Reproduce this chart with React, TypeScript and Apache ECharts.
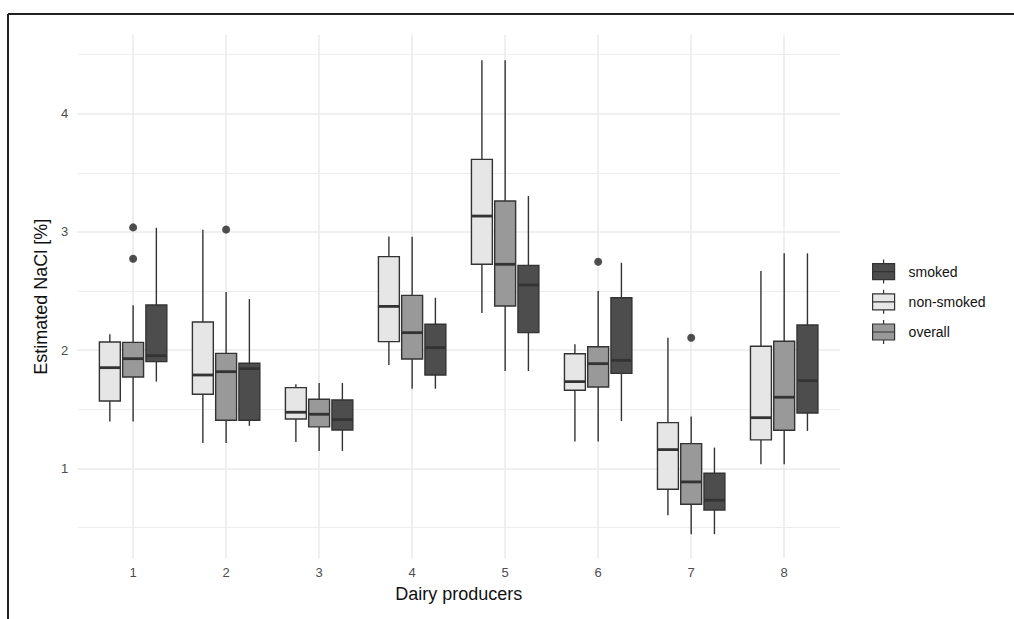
import React, { useEffect, useRef } from "react";
import * as echarts from "echarts";

// ---- data ----
const categories = ["1", "2", "3", "4", "5", "6", "7", "8"];
const majorBreaksY = [1, 2, 3, 4];
const minorBreaksY = [0.5, 1.5, 2.5, 3.5, 4.5];

// [lower whisker, Q1, median, Q3, upper whisker] per producer
const nonSmoked = [
  [1.396, 1.57, 1.852, 2.069, 2.134],
  [1.215, 1.627, 1.79, 2.238, 3.018],
  [1.224, 1.418, 1.475, 1.683, 1.711],
  [1.875, 2.072, 2.37, 2.791, 2.962],
  [2.314, 2.726, 3.134, 3.613, 4.452],
  [1.227, 1.661, 1.734, 1.97, 2.05],
  [0.604, 0.824, 1.159, 1.387, 2.105],
  [1.035, 1.241, 1.429, 2.033, 2.669],
];
const overall = [
  [1.396, 1.773, 1.928, 2.066, 2.379],
  [1.215, 1.407, 1.818, 1.973, 2.492],
  [1.148, 1.351, 1.458, 1.585, 1.723],
  [1.674, 1.925, 2.148, 2.463, 2.959],
  [1.824, 2.373, 2.726, 3.261, 4.452],
  [1.227, 1.689, 1.886, 2.029, 2.5],
  [0.444, 0.697, 0.886, 1.21, 1.438],
  [1.035, 1.323, 1.602, 2.075, 2.819],
];
const smoked = [
  [1.734, 1.903, 1.953, 2.382, 3.035],
  [1.36, 1.407, 1.844, 1.889, 2.432],
  [1.148, 1.325, 1.413, 1.579, 1.723],
  [1.674, 1.79, 2.021, 2.219, 2.443],
  [1.824, 2.148, 2.551, 2.717, 3.303],
  [1.401, 1.804, 1.914, 2.443, 2.739],
  [0.444, 0.649, 0.731, 0.959, 1.176],
  [1.317, 1.469, 1.742, 2.213, 2.819],
];
// outliers of the "overall" group: [producer, value]
const overallOutliers = [
  [1, 3.038],
  [1, 2.773],
  [2, 3.021],
  [6, 2.748],
  [7, 2.105],
];

const FONT = "'Liberation Sans', Arial, Helvetica, sans-serif";
const DODGE = 0.25;
const BOX_W = 0.225;
const EDGE = "#333333";

const legendIcon = "path://M0,4H22V20H0Z M11,0V4 M11,20V24 M0,12H22";

function renderBox(params: any, api: any) {
  const x = api.value(0);
  const lo = api.value(1);
  const q1 = api.value(2);
  const med = api.value(3);
  const q3 = api.value(4);
  const hi = api.value(5);
  const half = api.size([BOX_W, 0])[0] / 2;
  const pHi = api.coord([x, hi]);
  const pQ3 = api.coord([x, q3]);
  const pMed = api.coord([x, med]);
  const pQ1 = api.coord([x, q1]);
  const pLo = api.coord([x, lo]);
  const fill = api.visual("color");
  const lineStyle = { stroke: EDGE, lineWidth: 1.4 };
  return {
    type: "group",
    children: [
      { type: "line", shape: { x1: pHi[0], y1: pHi[1], x2: pQ3[0], y2: pQ3[1] }, style: lineStyle },
      { type: "line", shape: { x1: pQ1[0], y1: pQ1[1], x2: pLo[0], y2: pLo[1] }, style: lineStyle },
      {
        type: "rect",
        shape: { x: pQ3[0] - half, y: pQ3[1], width: 2 * half, height: pQ1[1] - pQ3[1] },
        style: { fill, stroke: EDGE, lineWidth: 1.4 },
      },
      {
        type: "line",
        shape: { x1: pMed[0] - half, y1: pMed[1], x2: pMed[0] + half, y2: pMed[1] },
        style: { stroke: EDGE, lineWidth: 2.8 },
      },
    ],
  };
}

function boxSeries(name: string, rows: number[][], offset: number, color: string) {
  return {
    type: "custom",
    name,
    renderItem: renderBox,
    itemStyle: { color, borderColor: EDGE, borderWidth: 1.2 },
    encode: { x: 0, y: [1, 2, 3, 4, 5] },
    data: rows.map((r, i) => [i + 1 + offset, ...r]),
    z: 3,
  };
}

export default function App() {
  const ref = useRef<HTMLDivElement>(null);
  useEffect(() => {
    if (!ref.current) return;
    const chart = echarts.init(ref.current, null, { renderer: "svg" });
    const gridColor = "#EBEBEB";
    chart.setOption({
      animation: false,
      backgroundColor: "#ffffff",
      textStyle: { fontFamily: FONT },
      grid: { left: 77.3, top: 35, width: 762.7, height: 523.3 },
      xAxis: {
        type: "value",
        min: 0.4,
        max: 8.6,
        name: "Dairy producers",
        nameLocation: "middle",
        nameGap: 27,
        nameTextStyle: { color: "#111", fontSize: 18, fontFamily: FONT },
        axisLine: { show: false },
        axisTick: { show: false, customValues: [1, 2, 3, 4, 5, 6, 7, 8] },
        axisLabel: {
          customValues: [1, 2, 3, 4, 5, 6, 7, 8],
          formatter: (v: number) => categories[Math.round(v) - 1],
          color: "#4D4D4D",
          fontSize: 13,
          margin: 8,
          fontFamily: FONT,
        },
        splitLine: { show: true, lineStyle: { color: gridColor, width: 1.6 } },
      },
      yAxis: [
        {
          type: "value",
          min: 0.24,
          max: 4.665,
          name: "Estimated NaCl [%]",
          nameLocation: "middle",
          nameGap: 22,
          nameTextStyle: { color: "#111", fontSize: 18, fontFamily: FONT },
          axisLine: { show: false },
          axisTick: { show: false, customValues: majorBreaksY },
          axisLabel: {
            customValues: majorBreaksY,
            color: "#4D4D4D",
            fontSize: 13,
            margin: 9,
            fontFamily: FONT,
          },
          splitLine: { show: true, lineStyle: { color: gridColor, width: 1.6 } },
        },
        {
          type: "value",
          min: 0.24,
          max: 4.665,
          axisLine: { show: false },
          axisTick: { show: false, customValues: minorBreaksY },
          axisLabel: { show: false, customValues: minorBreaksY },
          splitLine: { show: true, lineStyle: { color: gridColor, width: 0.9 } },
        },
      ],
      legend: {
        left: 872,
        top: 259,
        orient: "vertical",
        padding: 0,
        itemWidth: 22,
        itemHeight: 24,
        itemGap: 5,
        itemStyle: { borderColor: EDGE, borderWidth: 1.2 },
        textStyle: { color: "#111", fontSize: 14, fontFamily: FONT, padding: [0, 0, 0, 9] },
        data: [
          { name: "smoked", icon: legendIcon },
          { name: "non-smoked", icon: legendIcon },
          { name: "overall", icon: legendIcon },
        ],
        selectedMode: false,
      },
      graphic: [
        { type: "line", shape: { x1: 8, y1: 14, x2: 1014, y2: 14 }, style: { stroke: "#222", lineWidth: 2 }, z: 10 },
        { type: "line", shape: { x1: 8, y1: 14, x2: 8, y2: 619 }, style: { stroke: "#222", lineWidth: 2 }, z: 10 },
      ],
      series: [
        boxSeries("non-smoked", nonSmoked, -DODGE, "#E6E6E6"),
        boxSeries("overall", overall, 0, "#999999"),
        boxSeries("smoked", smoked, DODGE, "#4D4D4D"),
        {
          type: "scatter",
          name: "overall outliers",
          data: overallOutliers,
          symbol: "circle",
          symbolSize: 8,
          itemStyle: { color: "#222222" },
          z: 4,
        },
      ],
    });
    return () => chart.dispose();
  }, []);
  return (
    <div
      ref={ref}
      style={{ position: "absolute", left: 0, top: 0, width: 1014, height: 619 }}
    />
  );
}
